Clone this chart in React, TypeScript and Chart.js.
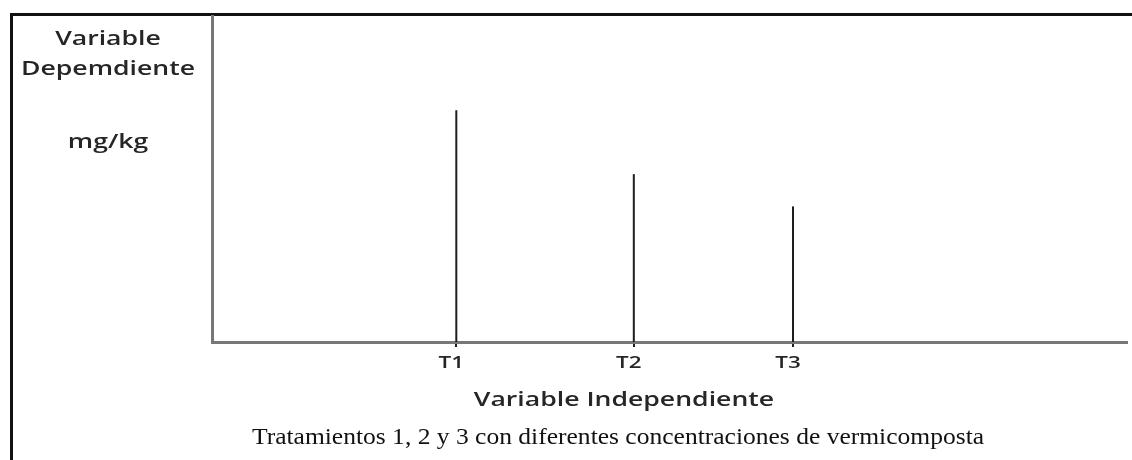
import React, { useEffect, useRef } from "react";
import { Chart, registerables } from "chart.js";

Chart.register(...registerables);

// Data
const categories = ["T1", "T2", "T3"];
const xPositions = [26.7, 46.1, 63.5]; // position along the independent-variable axis (0-100)
const values = [71.1, 51.5, 41.6]; // mg/kg (relative, 0-100 scale)
const yLabelLines = ["Variable", "Depemdiente", "", "mg/kg"];
const xTitle = "Variable Independiente";
const caption = "Tratamientos 1, 2 y 3 con diferentes concentraciones de vermicomposta";

const SANS = "'Open Sans', 'DejaVu Sans', sans-serif";
const SERIF = "'Liberation Serif', 'Times New Roman', serif";
const TEXT = "#262626";
const STRETCH = 1.4;

const textPlugin = {
  id: "texts",
  afterDraw(chart: any) {
    const { ctx, scales } = chart;
    const draw = (t: string, x: number, y: number, font: string, color: string, sx: number) => {
      ctx.save();
      ctx.translate(x, y);
      ctx.scale(sx, 1);
      ctx.font = font;
      ctx.fillStyle = color;
      ctx.textAlign = "center";
      ctx.textBaseline = "middle";
      ctx.fillText(t, 0, 0);
      ctx.restore();
    };
    const yRows = [40, 70, 100, 143];
    yLabelLines.forEach((l, i) => {
      if (l) draw(l, 108, yRows[i], `600 19px ${SANS}`, TEXT, STRETCH);
    });
    const xs = scales.x;
    categories.forEach((c, i) => {
      draw(c, xs.getPixelForValue(xPositions[i]) - 5, 363, `600 16px ${SANS}`, TEXT, STRETCH);
    });
    draw(xTitle, 624, 401, `600 19px ${SANS}`, TEXT, STRETCH);
    draw(caption, 618, 438, `23px ${SERIF}`, "#111", 1.11);
  },
};

export default function App() {
  const ref = useRef<HTMLCanvasElement | null>(null);
  useEffect(() => {
    if (!ref.current) return;
    const chart = new Chart(ref.current, {
      type: "scatter",
      data: {
        datasets: categories.map((c, i) => ({
          label: c,
          data: [
            { x: xPositions[i], y: 0 },
            { x: xPositions[i], y: values[i] },
          ],
          showLine: true,
          borderColor: "#1e1e1e",
          borderWidth: 2,
          pointRadius: 0,
        })),
      },
      options: {
        animation: false,
        responsive: false,
        maintainAspectRatio: false,
        layout: { padding: { top: 16, left: 212, right: 5, bottom: 0 } },
        plugins: { legend: { display: false }, tooltip: { enabled: false }, title: { display: false } },
        scales: {
          x: {
            type: "linear",
            min: 0,
            max: 100,
            offset: false,
            afterBuildTicks: (scale: any) => {
              scale.ticks = xPositions.map((v) => ({ value: v }));
            },
            afterFit: (scale: any) => {
              scale.height = 118;
            },
            ticks: { display: false },
            grid: {
              display: true,
              offset: false,
              drawOnChartArea: false,
              drawTicks: true,
              tickLength: 5,
              color: "#1e1e1e",
              lineWidth: 2,
            },
            border: { display: true, color: "#777777", width: 3 },
          },
          y: {
            min: 0,
            max: 100,
            afterFit: (scale: any) => {
              scale.width = 0;
            },
            ticks: { display: false },
            grid: { display: false, drawTicks: false },
            border: { display: true, color: "#777777", width: 3 },
          },
        },
      },
      plugins: [textPlugin],
    });
    return () => chart.destroy();
  }, []);

  return (
    <div style={{ position: "fixed", left: 0, top: 0, width: 1132, height: 460, overflow: "hidden", background: "#fff" }}>
      <div
        style={{
          position: "absolute",
          left: 10,
          top: 13,
          width: 1140,
          height: 470,
          borderTop: "3px solid #111",
          borderLeft: "3px solid #111",
          boxSizing: "border-box",
        }}
      />
      <canvas ref={ref} width={1132} height={460} style={{ position: "absolute", left: 0, top: 0, width: 1132, height: 460 }} />
    </div>
  );
}
